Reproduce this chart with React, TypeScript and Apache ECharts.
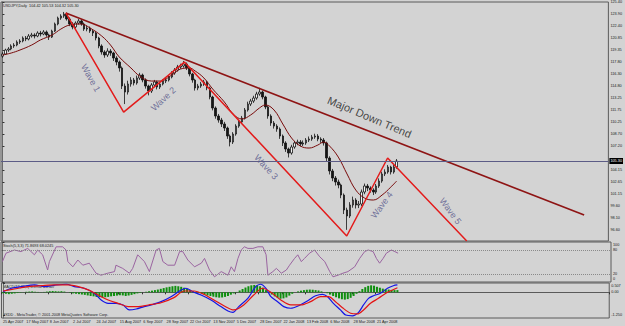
import React, { useEffect, useRef } from "react";
import * as echarts from "echarts";

// ---------- data ----------
const dateLabels = [
  "25 Apr 2007", "17 May 2007", "8 Jun 2007", "2 Jul 2007", "24 Jul 2007", "15 Aug 2007",
  "6 Sep 2007", "28 Sep 2007", "22 Oct 2007", "13 Nov 2007", "5 Dec 2007", "28 Dec 2007",
  "22 Jan 2008", "13 Feb 2008", "6 Mar 2008", "28 Mar 2008", "21 Apr 2008",
];
const LABEL_STEP = 8;
const SLOTS = 208;

const priceTicks = [125.4, 123.9, 122.4, 120.85, 119.35, 117.8, 116.3, 114.8, 113.25, 111.75, 110.25, 108.7, 107.2, 104.15, 102.65, 101.15, 99.6, 98.1, 96.6];
const priceMin = 95.19;
const priceMax = 125.4;
const lastPrice = 105.3;
const stochTicks = [0, 20, 80, 100];
const stochLevels = [20, 80];
const macdTicks = [-1.25, 0, 0.507];
const macdTickText = ["-1.250", "0.00", "0.507"];
const macdMin = -1.4;
const macdMax = 0.507;

// [open, close, low, high]
const candles = [
  [118.55, 118.82, 118.35, 119.05], [118.82, 119.33, 118.7, 119.5], [119.33, 119.46, 119.1, 119.7], [119.46, 119.84, 119.3, 120.05],
  [119.84, 119.96, 119.6, 120.2], [119.96, 120.34, 119.8, 120.55], [120.34, 120.47, 120.1, 120.7], [120.47, 120.85, 120.3, 121.05],
  [120.85, 120.72, 120.45, 121.1], [120.72, 121.1, 120.55, 121.35], [121.1, 121.23, 120.9, 121.5], [121.23, 121.1, 120.8, 121.45],
  [121.1, 121.48, 120.95, 121.7], [121.48, 121.35, 121.05, 121.75], [121.35, 121.61, 121.2, 121.85], [121.61, 121.23, 121.0, 121.8],
  [121.23, 120.97, 120.6, 121.4], [120.97, 121.73, 120.85, 121.9], [121.73, 122.62, 121.6, 122.8], [122.62, 123.37, 122.45, 123.55],
  [123.37, 123.63, 123.15, 123.85], [123.63, 123.88, 123.4, 124.14], [123.88, 123.25, 123.05, 124.05], [123.25, 122.62, 122.35, 123.45],
  [122.62, 122.24, 121.95, 122.85], [122.24, 122.74, 122.05, 122.95], [122.74, 123.0, 122.55, 123.25], [123.0, 122.62, 122.4, 123.2],
  [122.62, 121.98, 121.75, 122.8], [121.98, 122.11, 121.7, 122.4], [122.11, 121.73, 121.5, 122.3], [121.73, 121.48, 121.1, 121.95],
  [121.48, 120.85, 120.55, 121.65], [120.85, 119.84, 119.55, 121.0], [119.84, 119.08, 118.75, 120.05], [119.08, 118.7, 118.35, 119.3],
  [118.7, 119.2, 118.45, 119.55], [119.2, 118.95, 118.6, 119.45], [118.95, 118.32, 117.95, 119.1], [118.32, 117.81, 117.4, 118.55],
  [117.81, 117.06, 116.6, 118.0], [117.06, 114.78, 114.4, 117.25], [114.78, 114.02, 112.5, 115.1], [114.02, 115.03, 113.7, 115.45],
  [115.03, 115.54, 114.7, 115.9], [115.54, 115.16, 114.85, 115.8], [115.16, 115.79, 114.95, 116.1], [115.79, 116.17, 115.55, 116.45],
  [116.17, 115.54, 115.25, 116.35], [115.54, 114.78, 114.45, 115.75], [114.78, 114.15, 113.6, 114.95], [114.15, 114.91, 113.9, 115.15],
  [114.91, 115.29, 114.7, 115.55], [115.29, 114.65, 114.35, 115.45], [114.65, 115.03, 114.4, 115.3], [115.03, 115.41, 114.85, 115.65],
  [115.41, 115.54, 115.15, 115.85], [115.54, 115.92, 115.35, 116.15], [115.92, 116.42, 115.75, 116.65], [116.42, 116.8, 116.2, 117.05],
  [116.8, 117.18, 116.6, 117.45], [117.18, 117.31, 116.95, 117.6], [117.31, 117.56, 117.1, 117.95], [117.56, 117.06, 116.8, 117.75],
  [117.06, 116.3, 116.0, 117.2], [116.3, 115.54, 115.2, 116.45], [115.54, 114.53, 114.2, 115.7], [114.53, 114.78, 114.25, 115.05],
  [114.78, 115.03, 114.55, 115.3], [115.03, 115.29, 114.8, 115.55], [115.29, 114.53, 114.25, 115.45], [114.53, 113.39, 113.1, 114.7],
  [113.39, 112.0, 111.7, 113.55], [112.0, 110.99, 110.65, 112.2], [110.99, 110.48, 110.15, 111.25], [110.48, 109.98, 109.6, 110.75],
  [109.98, 109.47, 109.1, 110.25], [109.47, 108.46, 108.1, 109.65], [108.46, 107.7, 107.15, 108.65], [107.7, 108.71, 107.45, 108.95],
  [108.71, 109.72, 108.5, 109.95], [109.72, 110.23, 109.5, 110.5], [110.23, 110.73, 110.0, 111.0], [110.73, 111.75, 110.55, 112.0],
  [111.75, 112.5, 111.55, 112.8], [112.5, 112.88, 112.25, 113.15], [112.88, 113.26, 112.65, 113.55], [113.26, 113.77, 113.05, 114.05],
  [113.77, 114.02, 113.55, 114.55], [114.02, 113.39, 113.1, 114.2], [113.39, 112.13, 111.85, 113.55], [112.13, 110.99, 110.65, 112.3],
  [110.99, 110.1, 109.75, 111.2], [110.1, 109.72, 109.4, 110.35], [109.72, 109.34, 109.0, 109.95], [109.34, 108.46, 108.1, 109.55],
  [108.46, 107.58, 107.2, 108.65], [107.58, 106.82, 106.45, 107.8], [106.82, 106.31, 105.75, 107.0], [106.31, 107.07, 106.1, 107.35],
  [107.07, 107.58, 106.85, 107.85], [107.58, 107.7, 107.3, 108.0], [107.7, 107.45, 107.15, 107.95], [107.45, 107.58, 107.2, 107.9],
  [107.58, 107.95, 107.35, 108.2], [107.95, 108.08, 107.7, 108.4], [108.08, 108.33, 107.85, 108.6], [108.33, 108.46, 108.1, 108.75],
  [108.46, 108.08, 107.8, 108.7], [108.08, 107.95, 107.6, 108.3], [107.95, 107.58, 107.25, 108.2], [107.58, 105.68, 105.3, 107.75],
  [105.68, 104.04, 103.6, 105.9], [104.04, 103.15, 102.75, 104.3], [103.15, 102.65, 102.2, 103.4], [102.65, 102.27, 101.85, 102.95],
  [102.27, 101.0, 100.6, 102.45], [101.0, 99.11, 98.6, 101.2], [99.11, 98.35, 96.6, 99.4], [98.35, 99.74, 98.1, 100.1],
  [99.74, 100.37, 99.4, 100.8], [100.37, 99.74, 99.3, 100.6], [99.74, 99.86, 99.35, 100.25], [99.86, 101.38, 99.6, 101.7],
  [101.38, 102.14, 101.1, 102.45], [102.14, 101.89, 101.5, 102.4], [101.89, 101.63, 101.3, 102.1], [101.63, 101.38, 101.0, 101.85],
  [101.38, 102.14, 101.15, 102.4], [102.14, 102.77, 101.9, 103.1], [102.77, 103.66, 102.55, 103.95], [103.66, 103.91, 103.4, 104.25],
  [103.91, 104.54, 103.7, 104.8], [104.54, 103.91, 103.6, 104.7], [103.91, 104.54, 103.7, 104.8], [104.54, 105.3, 104.32, 105.55],
];

// moving average [slot, price]
const maPoints = [
  [0, 118.7], [3, 118.95], [6, 119.33], [10, 119.96], [13, 120.6], [17, 121.23], [20, 121.98], [23, 122.49], [27, 122.62],
  [30, 122.11], [34, 121.1], [37, 119.96], [40, 118.45], [44, 117.06], [47, 116.04], [51, 115.41], [54, 115.41], [58, 116.17],
  [61, 116.93], [64, 117.06], [66, 116.68], [69, 115.79], [72, 114.4], [76, 112.76], [79, 111.24], [82, 110.61], [85, 111.12],
  [88, 112.0], [90, 112.38], [93, 111.75], [96, 109.98], [99, 108.21], [102, 107.2], [105, 106.94], [108, 107.32], [110, 107.7],
  [112, 107.2], [115, 105.8], [118, 103.66], [121, 101.63], [124, 100.62], [127, 100.37], [130, 101.0], [133, 102.01], [135, 102.77],
];

const wavePoints = [[21.7, 124.01], [41.5, 111.49], [62.3, 117.81], [117.9, 95.82], [131.9, 105.68], [159, 95.2]];
const trendPoints = [[21.7, 124.01], [199.2, 98.47]];

const waveNotes = [
  { name: "Wave 1", value: [30.2, 115.79], angle: -61 },
  { name: "Wave 2", value: [55.1, 113.14], angle: 43 },
  { name: "Wave 3", value: [90.3, 104.54], angle: -47 },
  { name: "Wave 4", value: [129.9, 99.74], angle: 54 },
  { name: "Wave 5", value: [153.4, 98.97], angle: -54 },
];
const trendNote = { name: "Major Down Trend", value: [125.7, 110.86], angle: -23 };

const stochPoints = [
  [0, 51], [1.2, 72], [4.1, 80], [6.3, 76], [8.6, 84], [10.9, 68], [12, 80], [13.7, 68], [15.4, 30], [16, 51], [18.3, 88],
  [20.5, 88], [21.7, 80], [22.3, 51], [24, 38], [25.7, 55], [27.4, 42], [29.6, 47], [31.9, 22], [33.6, 17], [35.9, 22],
  [38.2, 26], [38.7, 42], [41, 34], [43.3, 22], [44.4, 34], [46.1, 68], [48.4, 51], [50.1, 26], [52.4, 80], [53.5, 84],
  [54.7, 51], [56.4, 42], [58.7, 42], [60.4, 76], [61.5, 76], [63.2, 55], [65.5, 38], [67.8, 47], [68.9, 59], [70.6, 30],
  [72.3, 13], [74.6, 26], [76.9, 17], [78, 38], [79.1, 26], [80.3, 59], [81.4, 80], [82.5, 88], [83.7, 84], [85.4, 84],
  [87.1, 88], [88.8, 88], [89.9, 68], [90.5, 17], [92.2, 26], [93.4, 34], [95.1, 22], [96.8, 30], [97.9, 42], [99.6, 59],
  [100.7, 68], [101.9, 51], [103, 59], [104.7, 72], [106.4, 80], [108.2, 63], [109.9, 51], [111.6, 26], [112.7, 13],
  [114.4, 17], [116.1, 22], [117.8, 26], [120.1, 38], [121.8, 59], [123.5, 76], [124.7, 80], [126.4, 76], [127.5, 59],
  [128.6, 47], [129.8, 59], [130.9, 72], [132.6, 80], [133.8, 76], [134.9, 72],
];

const macdHist = [
  -0.05, -0.08, -0.1, -0.08, -0.06, -0.04, -0.02,
  0.01, 0.03, 0.04, 0.05, 0.03, 0.02, 0.01, 0.02,
  0.04, 0.06, 0.07, 0.06, 0.05, 0.06, 0.04,
  0.0, -0.03, -0.06, -0.08, -0.1, -0.12, -0.14,
  -0.17, -0.2, -0.22,
  -0.25, -0.27, -0.28, -0.27, -0.25, -0.22, -0.2, -0.18, -0.16, -0.17, -0.2, -0.18,
  -0.14, -0.1, -0.06, -0.03, 0.0, 0.03, 0.06,
  0.09, 0.12, 0.15, 0.19, 0.23, 0.27, 0.3, 0.33, 0.35, 0.33, 0.3, 0.25,
  0.18, 0.12, 0.06, 0.02, -0.03,
  -0.08, -0.13, -0.17, -0.2, -0.24, -0.27, -0.29, -0.28, -0.25, -0.2,
  -0.13, -0.06, 0.02,
  0.1, 0.18, 0.26, 0.33, 0.38, 0.4, 0.38, 0.33, 0.25,
  0.12, 0.0, -0.12, -0.22, -0.3, -0.35, -0.33, -0.28,
  -0.18, -0.08, 0.0, 0.05, 0.09, 0.12, 0.14, 0.15, 0.14, 0.12, 0.1,
  0.05, 0.0, -0.05,
  -0.12, -0.2, -0.27, -0.33, -0.38, -0.4, -0.37, -0.3, -0.2,
  -0.08, 0.06, 0.18, 0.28, 0.35, 0.38, 0.36,
  0.3, 0.25, 0.2, 0.17, 0.15, 0.13, 0.12, 0.12,
];

const macdMain = [
  [0, 0.03], [2.9, 0.22], [6.3, 0.31], [10.8, 0.4], [14.2, 0.31], [18.3, 0.4], [21.7, 0.44], [24.4, 0.31], [27.8, 0.22],
  [31.2, -0.05], [33.6, -0.42], [36, -0.6], [38.7, -0.6], [41.1, -0.69], [43.2, -0.96], [45.6, -0.91], [48.3, -0.78],
  [50.7, -0.69], [54.1, -0.51], [57.5, -0.24], [61, 0.13], [62.6, 0.22], [65, 0.03], [67.8, -0.15], [71.2, -0.42],
  [74.6, -0.78], [77, -1.02], [78.7, -1.09], [80.7, -0.78], [83.8, -0.33], [86.5, 0.31], [88.2, 0.44], [90, 0.22],
  [91.7, -0.24], [94, -0.51], [96.1, -0.78], [98.5, -0.87], [101.2, -0.73], [104.3, -0.46], [107, -0.19], [109.4, -0.11],
  [111.1, -0.24], [113.1, -0.6], [115.5, -0.96], [117.3, -1.24], [119.6, -1.28], [121.7, -1.09], [123.4, -0.69],
  [125.1, -0.33], [126.8, -0.19], [129.2, -0.05], [131.6, 0.22], [133.6, 0.36], [135, 0.4],
];
const macdSignal = [
  [0, 0.07], [3.9, 0.18], [8.7, 0.31], [13.2, 0.36], [17.6, 0.4], [22.4, 0.4], [25.8, 0.31], [29.2, 0.13], [32.6, -0.15],
  [36, -0.42], [39.4, -0.6], [42.8, -0.78], [46.3, -0.78], [49.7, -0.69], [54.1, -0.57], [58.5, -0.29], [62, 0.07],
  [65.4, 0.07], [68.8, -0.11], [72.2, -0.42], [75.6, -0.73], [79, -0.96], [82.4, -0.69], [85.8, -0.15], [88.9, 0.22],
  [91.7, 0.0], [95.1, -0.42], [98.5, -0.69], [101.9, -0.69], [105.3, -0.51], [108.7, -0.24], [111.4, -0.24], [113.8, -0.51],
  [116.2, -0.84], [119, -1.14], [121.3, -1.18], [123.4, -0.96], [125.8, -0.6], [128.5, -0.33], [131.6, 0.0], [135, 0.25],
];

const headerMain = "USDJPY,Daily  104.42 105.53 104.32 105.30";
const headerStoch = "Stoch(5,3,3) 71.8693 68.0245";
const headerMacd = "MACD(12,26,9) 0.3952 0.2507";
const footer = "FXDD - MetaTrader, \u00a9 2001-2008 MetaQuotes Software Corp.";

// ---------- chart ----------
const FONT = "'Liberation Sans', Arial, sans-serif";
const SMALL = 3.8;

export default function App() {
  const ref = useRef<HTMLDivElement>(null);

  useEffect(() => {
    if (!ref.current) return;
    const chart = echarts.init(ref.current, undefined, { renderer: "svg" });

    const categories: string[] = [];
    for (let i = 0; i < SLOTS; i++) {
      const k = i / LABEL_STEP;
      categories.push(i % LABEL_STEP === 0 && k < dateLabels.length ? dateLabels[k] : "");
    }

    const gridBase = { left: 1, right: 14, show: true, borderColor: "#5a5a5a", borderWidth: 1 };
    const hiddenValueX = (gridIndex: number) => ({
      type: "value", gridIndex, min: -0.5, max: SLOTS - 0.5, show: false,
    });
    const smallLabel = { fontSize: SMALL, color: "#1a1a1a", fontFamily: FONT };
    const edgeRich = {
      dn: { fontSize: SMALL, color: "#1a1a1a", fontFamily: FONT, padding: [6, 0, 0, 0] },
      up: { fontSize: SMALL, color: "#1a1a1a", fontFamily: FONT, padding: [0, 0, 6, 0] },
      mid: { fontSize: SMALL, color: "#1a1a1a", fontFamily: FONT },
    };

    const option: any = {
      animation: false,
      backgroundColor: "#d3d3d3",
      textStyle: { fontFamily: FONT },
      grid: [
        { ...gridBase, top: 2, height: 239 },
        { ...gridBase, top: 242, height: 40 },
        { ...gridBase, top: 283, height: 35 },
      ],
      xAxis: [
        {
          type: "category", gridIndex: 0, data: categories, boundaryGap: true,
          axisLine: { show: false }, axisTick: { show: false }, axisLabel: { show: false },
        },
        hiddenValueX(0),
        hiddenValueX(1),
        {
          type: "category", gridIndex: 2, data: categories, boundaryGap: true,
          axisLine: { show: true, lineStyle: { color: "#5a5a5a" } },
          axisTick: { show: true, length: 2, interval: (_i: number, v: string) => v !== "", lineStyle: { color: "#333" } },
          axisLabel: { ...smallLabel, interval: 0, align: "left", margin: 2 },
        },
        hiddenValueX(2),
      ],
      yAxis: [
        {
          type: "value", gridIndex: 0, position: "right", min: priceMin, max: priceMax,
          splitLine: { show: false },
          axisLine: { show: true, lineStyle: { color: "#6a6a6a" } },
          axisTick: { show: true, length: 2, customValues: priceTicks, lineStyle: { color: "#333" } },
          axisLabel: { ...smallLabel, margin: 2, customValues: priceTicks, formatter: (v: number) => v.toFixed(2) },
        },
        {
          type: "value", gridIndex: 1, position: "right", min: 0, max: 100,
          splitLine: { show: false },
          axisLine: { show: true, lineStyle: { color: "#6a6a6a" } },
          axisTick: { show: true, length: 2, customValues: stochTicks, lineStyle: { color: "#333" } },
          axisLabel: {
            ...smallLabel, margin: 2, customValues: stochTicks, rich: edgeRich,
            formatter: (v: number) => (v === 100 ? `{dn|${v}}` : v === 0 ? `{up|${v}}` : `{mid|${v}}`),
          },
        },
        {
          type: "value", gridIndex: 2, position: "right", min: macdMin, max: macdMax,
          splitLine: { show: false },
          axisLine: { show: true, lineStyle: { color: "#6a6a6a" } },
          axisTick: { show: true, length: 2, customValues: macdTicks, lineStyle: { color: "#333" } },
          axisLabel: {
            ...smallLabel, margin: 2, customValues: macdTicks, rich: edgeRich,
            formatter: (v: number) => {
              const k = macdTicks.findIndex((t) => Math.abs(t - v) < 1e-6);
              const txt = k >= 0 ? macdTickText[k] : String(v);
              return Math.abs(v - macdMax) < 1e-6 ? `{dn|${txt}}` : `{mid|${txt}}`;
            },
          },
        },
      ],
      graphic: [
        { type: "text", left: 3, top: 4, style: { text: headerMain, fontSize: SMALL, fill: "#1a1a1a", fontFamily: FONT } },
        { type: "text", left: 3, top: 244, style: { text: headerStoch, fontSize: SMALL, fill: "#1a1a1a", fontFamily: FONT } },
        { type: "text", left: 3, top: 285, style: { text: headerMacd, fontSize: SMALL, fill: "#1a1a1a", fontFamily: FONT } },
        { type: "text", left: 3, top: 313, style: { text: footer, fontSize: SMALL, fill: "#1a1a1a", fontFamily: FONT } },
      ],
      series: [
        {
          type: "candlestick", xAxisIndex: 0, yAxisIndex: 0, data: candles, barWidth: 2,
          itemStyle: { color: "#f4f4f4", color0: "#151515", borderColor: "#151515", borderColor0: "#151515", borderWidth: 0.8 },
          markLine: {
            silent: true, symbol: "none",
            lineStyle: { color: "#5c5c86", width: 1, type: "solid" },
            label: {
              show: true, position: "end", distance: 1, formatter: lastPrice.toFixed(2),
              backgroundColor: "#000", color: "#fff", fontSize: SMALL, padding: [1, 1], fontFamily: FONT,
            },
            data: [{ yAxis: lastPrice }],
          },
        },
        {
          type: "line", xAxisIndex: 1, yAxisIndex: 0, data: maPoints, smooth: 0.4, symbol: "none",
          lineStyle: { color: "#780a0a", width: 1 },
        },
        {
          type: "line", xAxisIndex: 1, yAxisIndex: 0, data: trendPoints, symbol: "none",
          lineStyle: { color: "#8e1414", width: 1.6 },
        },
        {
          type: "line", xAxisIndex: 1, yAxisIndex: 0, data: wavePoints, symbol: "none",
          lineStyle: { color: "#e31b1b", width: 1.5 },
        },
        {
          type: "scatter", xAxisIndex: 1, yAxisIndex: 0, symbolSize: 1, silent: true,
          itemStyle: { color: "rgba(0,0,0,0)" },
          label: { show: true, position: "inside", formatter: "{b}", fontSize: 9, color: "#56568a", fontFamily: FONT },
          data: [
            ...waveNotes.map((n) => ({ name: n.name, value: n.value, label: { rotate: n.angle } })),
            { name: trendNote.name, value: trendNote.value, label: { rotate: trendNote.angle, fontSize: 11, color: "#1a1a1a" } },
          ],
        },
        {
          type: "line", xAxisIndex: 2, yAxisIndex: 1, data: stochPoints, symbol: "none",
          lineStyle: { color: "#9a64a0", width: 1 },
          markLine: {
            silent: true, symbol: "none", label: { show: false },
            lineStyle: { color: "#8a8a8a", width: 1, type: "dotted" },
            data: stochLevels.map((v) => ({ yAxis: v })),
          },
        },
        {
          type: "bar", xAxisIndex: 3, yAxisIndex: 2, data: macdHist, barWidth: 2,
          itemStyle: { color: "#0f8f0f" },
        },
        {
          type: "line", xAxisIndex: 4, yAxisIndex: 2, data: macdMain, symbol: "none", smooth: 0.3,
          lineStyle: { color: "#1414e6", width: 1.2 },
        },
        {
          type: "line", xAxisIndex: 4, yAxisIndex: 2, data: macdSignal, symbol: "none", smooth: 0.3,
          lineStyle: { color: "#e41414", width: 1.2 },
        },
      ],
    };

    chart.setOption(option);
    return () => chart.dispose();
  }, []);

  return (
    <div
      ref={ref}
      style={{ position: "fixed", left: 0, top: 0, width: 625, height: 326, background: "#d3d3d3" }}
    />
  );
}
